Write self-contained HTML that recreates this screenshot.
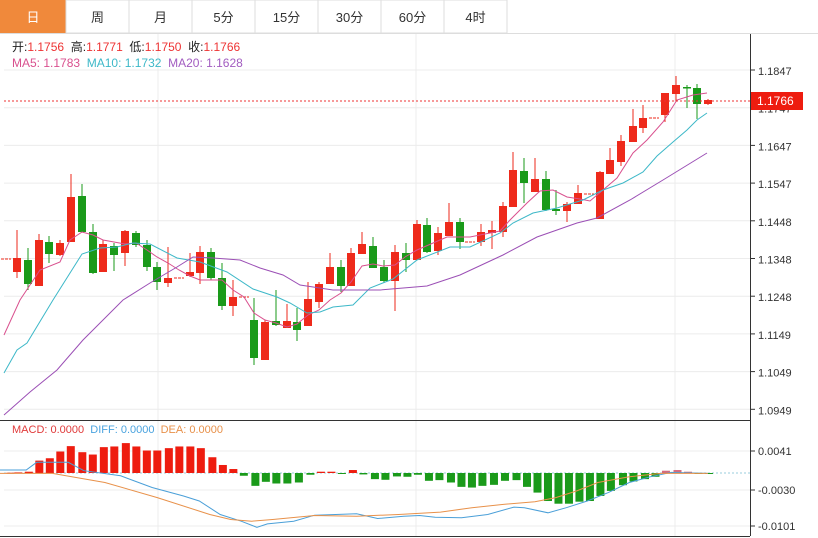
<!DOCTYPE html>
<html><head><meta charset="utf-8"><style>
body{margin:0;background:#fff;width:818px;height:538px;overflow:hidden;font-family:"Liberation Sans","Noto Sans CJK SC",sans-serif}
svg{position:absolute;left:0;top:0}
</style></head><body>
<svg id="s" width="818" height="538" xmlns="http://www.w3.org/2000/svg" font-family="Liberation Sans, Noto Sans CJK SC, sans-serif"></svg>
<script>
var s=document.getElementById('s'),h='';
function R(x,y,w,hh,f,o){h+='<rect x="'+x+'" y="'+y+'" width="'+w+'" height="'+hh+'" fill="'+f+'"'+(o||'')+'/>';}
function L(x1,y1,x2,y2,c,o){h+='<line x1="'+x1+'" y1="'+y1+'" x2="'+x2+'" y2="'+y2+'" stroke="'+c+'"'+(o||'')+'/>';}
function T(x,y,t,c,sz,a){h+='<text x="'+x+'" y="'+y+'" fill="'+c+'" font-size="'+(sz||12)+'"'+(a||'')+'>'+t+'</text>';}
function P(pts,c){h+='<polyline fill="none" stroke="'+c+'" stroke-width="1" points="'+pts.map(p=>p.join(',')).join(' ')+'"/>';}
// tabs
var tabs=['日','周','月','5分','15分','30分','60分','4时'],tx=[0,66,129,192,255,318,381,444,507];
for(var i=0;i<8;i++){if(i==0)R(0,0,66,33,'#f0893b');else R(tx[i],0,tx[i+1]-tx[i],33,'#fff',' stroke="#ddd"');T((tx[i]+tx[i+1])/2,22,tabs[i],i==0?'#fff':'#333',13,' text-anchor="middle"');}
L(0,33.5,818,33.5,'#ddd');
// grid
var lv=['1.1847','1.1747','1.1647','1.1547','1.1448','1.1348','1.1248','1.1149','1.1049','1.0949'];
for(var i=0;i<10;i++){var y=70+i*37.7;L(4,y,750,y,'#ececec');L(750,y,755,y,'#333');T(758,y+5,lv[i],'#333',11);}
[158,416,675].forEach(x=>{L(x,34,x,536,'#ececec');});
L(750.5,34,750.5,536,'#333');
L(0,420.5,750,420.5,'#333');L(0,536.5,750,536.5,'#333');
// macd grid
[451,490,526].forEach((y,i)=>{L(4,y,750,y,'#ececec');L(750,y,755,y,'#333');T(758,y+4,['0.0041','-0.0030','-0.0101'][i],'#333',11);});
L(4,473,750,473,'#9cd',' stroke-dasharray="2,2"');
// candles [x,bodyTop,bodyBot,wTop,wBot,up]
var C=[[6,259,259,259,259,1],[17,258,272,230,278,1],[28,260,284,248,290,0],[39,240,286,234,286,1],[49,242,254,236,263,0],[60,243,255,240,256,1],[71,197,242,174,242,1],[82,196,232,184,232,0],[93,232,273,224,274,0],[103,244,272,240,272,1],[114,246,255,243,271,0],[125,231,253,230,266,1],[136,233,245,231,247,0],[147,245,267,240,271,0],[157,267,282,262,290,0],[168,278,283,247,287,1],[179,278,278,278,278,1],[190,272,276,253,277,1],[200,252,273,246,284,1],[211,252,278,248,280,0],[222,278,306,263,310,0],[233,297,306,280,316,1],[244,297,297,297,297,1],[254,320,358,298,365,0],[265,322,360,320,360,1],[276,321,325,290,326,0],[287,321,328,304,328,1],[297,322,330,308,341,0],[308,299,326,282,326,1],[319,284,302,282,308,1],[330,267,284,253,284,1],[341,267,286,260,292,0],[351,253,286,248,286,1],[362,244,254,232,254,1],[373,246,268,237,268,0],[384,267,281,260,283,0],[395,252,281,245,311,1],[406,253,260,243,272,0],[417,224,260,220,260,1],[427,225,252,218,253,0],[438,233,251,227,255,1],[449,222,236,203,236,1],[460,222,242,218,249,0],[470,242,242,242,242,1],[481,232,242,224,246,1],[492,230,233,221,249,1],[503,206,232,202,237,1],[513,170,207,152,207,1],[524,171,183,158,203,0],[535,179,192,158,192,1],[546,179,210,171,211,0],[556,209,211,190,215,0],[567,204,211,202,222,1],[578,193,204,185,204,1],[589,194,194,194,194,1],[600,172,219,171,219,1],[610,160,174,148,174,1],[621,141,162,135,166,1],[633,126,142,109,142,1],[643,118,128,105,133,1],[654,118,118,118,118,1],[665,93,115,93,122,1],[676,85,94,76,102,1],[687,87,88,85,108,0],[697,88,104,84,119,0],[708,100,104,99,105,1]];
C.forEach(c=>{var col=c[5]?'#ee2a1b':'#1a9a1a';L(c[0],c[3],c[0],c[4],col);var hh=Math.max(1.5,c[2]-c[1]);if(c[2]==c[1])L(c[0]-5,c[1],c[0]+5,c[1],col,' stroke-dasharray="3,1"');else R(c[0]-4,c[1],8,hh,col);});
// MAs
P([[4,335],[20,300],[40,270],[60,262],[70,240],[82,232],[93,235],[103,240],[114,242],[125,244],[136,243],[147,250],[157,257],[168,263],[179,270],[190,276],[200,280],[222,280],[233,290],[244,297],[254,313],[265,320],[276,323],[287,327],[297,324],[308,315],[319,310],[330,300],[341,293],[351,282],[362,266],[373,264],[383,266],[395,265],[405,257],[417,250],[440,240],[447,237],[470,237],[480,235],[500,231],[510,220],[527,203],[540,191],[553,190],[567,197],[580,199],[590,201],[603,190],[617,178],[633,153],[647,140],[663,122],[677,100],[693,95],[707,93]],'#d9508e');
P([[4,373],[17,350],[27,343],[53,300],[82,254],[100,248],[117,247],[133,243],[150,244],[177,258],[200,262],[227,272],[253,289],[277,297],[290,303],[307,313],[320,312],[333,307],[353,305],[370,288],[393,279],[417,260],[450,247],[470,247],[500,233],[513,223],[533,213],[557,208],[583,200],[603,190],[623,183],[643,172],[657,156],[673,142],[687,130],[697,120],[707,113]],'#3db8c8');
P([[4,415],[30,392],[57,370],[83,340],[123,300],[150,283],[177,267],[193,257],[213,258],[240,260],[260,268],[283,275],[300,285],[333,290],[380,290],[427,286],[460,275],[503,255],[537,237],[577,223],[597,218],[630,200],[663,180],[707,153]],'#9b4fb5');
// current price
L(4,101,750,101,'#e33',' stroke-dasharray="2,2"');
R(751,92,52,18,'#ee1c0f');T(757,105,'1.1766','#fff',12);
// legends
T(12,51,'开:<tspan fill="#e33">1.1756</tspan>&#160;&#160;高:<tspan fill="#e33">1.1771</tspan>&#160;&#160;低:<tspan fill="#e33">1.1750</tspan>&#160;&#160;收:<tspan fill="#e33">1.1766</tspan>','#222',12);
T(12,67,'<tspan fill="#d9508e">MA5: 1.1783</tspan>&#160;&#160;<tspan fill="#3db8c8">MA10: 1.1732</tspan>&#160;&#160;<tspan fill="#a25cc0">MA20: 1.1628</tspan>','#222',12);
T(12,433,'<tspan fill="#e03a3a">MACD: 0.0000</tspan>&#160;&#160;<tspan fill="#4aa3df">DIFF: 0.0000</tspan>&#160;&#160;<tspan fill="#e8914a">DEA: 0.0000</tspan>','#222',11);
// MACD bars [zoomx, zoomy]
var B=[[20,216],[35,215],[55,213],[75,180],[95,173],[115,153],[135,137],[157,155],[177,162],[198,140],[218,138],[240,128],[260,138],[280,150],[300,150],[322,143],[342,138],[363,138],[383,143],[405,170],[425,193],[445,205],[465,225],[487,255],[507,243],[527,248],[548,248],[570,245],[592,222],[612,213],[632,213],[652,219],[673,208],[693,221],[715,235],[735,237],[757,227],[777,228],[797,222],[818,240],[838,238],[860,245],[880,258],[900,260],[920,255],[942,252],[963,240],[985,238],[1005,258],[1025,275],[1045,300],[1065,308],[1085,308],[1105,302],[1125,300],[1145,285],[1165,270],[1188,253],[1208,242],[1230,235],[1250,228],[1270,210],[1292,208],[1312,213],[1332,217],[1352,218]];
B.forEach(b=>{var x=b[0]/1.907,y=b[1]/2.97+400,z=473;var up=y<z;var top=Math.min(y,z),hh=Math.max(1,Math.abs(y-z));R(x-4,top,8,hh,up?(x>655?'#d46a7e':'#ee1c0f'):'#1a9a1a');});
function M(a){return a.map(p=>[(p[0]/1.907).toFixed(1),(p[1]/2.97+400).toFixed(1)]);}
P(M([[0,208],[50,208],[70,185],[130,185],[160,210],[230,225],[290,260],[350,285],[380,300],[420,340],[460,360],[490,378],[510,368],[560,360],[600,342],[640,340],[680,338],[720,352],[770,345],[800,343],[830,348],[880,350],[930,340],[980,318],[1000,320],[1045,335],[1080,320],[1120,300],[1160,275],[1200,245],[1240,228],[1280,215],[1350,218]]),'#4a9fd8');
P(M([[0,218],[100,218],[200,245],[300,290],[400,340],[440,355],[480,360],[520,355],[600,343],[680,345],[760,340],[840,333],[900,320],[960,310],[1020,302],[1060,290],[1100,270],[1140,245],[1200,228],[1260,218],[1350,218]]),'#e8914a');
s.innerHTML=h;
</script>
</body></html>
